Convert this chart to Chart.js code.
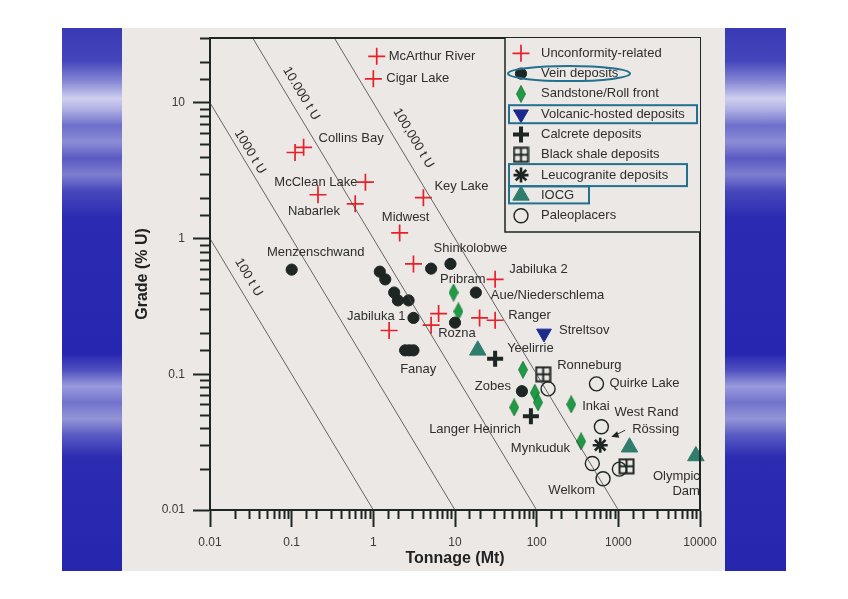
<!DOCTYPE html>
<html>
<head>
<meta charset="utf-8">
<script src="https://cdn.jsdelivr.net/npm/chart.js"></script>
<style>
  html, body { margin: 0; padding: 0; background: #fff; }
  #wrap { position: relative; width: 848px; height: 599px; overflow: hidden; }
  .band {
    position: absolute; top: 28px; height: 543px;
    background: linear-gradient(to bottom,
      #3a3ab6 0%, #4444bb 6%, #8a8ad6 10%, #cfcff0 13%, #b0b0e4 15%, #6e6ecc 18%,
      #8c8cd6 21%, #5a5ac4 24%, #7e7ed0 27%, #4848bc 30%, #2a2ab2 35%, #2626b0 60%,
      #5050c0 63%, #9a9ade 66%, #7272cc 69%, #9494d8 72%, #5a5ac4 75%, #2c2cb2 79%, #2525ae 100%);
  }
  #leftBand { left: 62px; width: 60px; }
  #rightBand { left: 725px; width: 61px; }
  #panel { position: absolute; left: 122px; top: 28px; width: 603px; height: 543px; background: #ece8e5; }
  canvas { position: absolute; left: 0; top: 0; }
</style>
</head>
<body>
<div id="wrap">
  <div class="band" id="leftBand"></div>
  <div class="band" id="rightBand"></div>
  <div id="panel"></div>
  <canvas id="grade" width="848" height="599"></canvas>
</div>
<script>
// deposit data: [tonnage Mt, grade % U]
const unconformity = [[1.1, 22], [1.0, 15], [0.11, 4.3], [0.14, 4.7], [0.8, 2.6], [0.21, 2.1], [0.6, 1.8],
  [4.1, 2.0], [2.1, 1.1], [3.1, 0.65], [31, 0.5], [6.3, 0.28], [5.1, 0.23], [1.56, 0.21], [20, 0.26], [31, 0.25]];
const vein = [[0.1, 0.59], [1.2, 0.57], [1.4, 0.5], [1.8, 0.4], [2.0, 0.35], [2.7, 0.35], [3.1, 0.26],
  [2.45, 0.15], [2.75, 0.15], [3.1, 0.15], [5.1, 0.6], [8.8, 0.65], [18, 0.4], [10, 0.24], [66, 0.075]];
const sandstone = [[9.6, 0.4], [11, 0.29], [68, 0.108], [95, 0.073], [104, 0.062], [53, 0.057], [265, 0.06], [350, 0.032]];
const volcanic = [[123, 0.2]];
const calcrete = [[31, 0.13], [85, 0.049]];
const blackShale = [[120, 0.1], [1260, 0.021]];
const leucogranite = [[600, 0.03]];
const iocg = [[19, 0.15], [1370, 0.029], [8900, 0.025]];
const paleoplacers = [[138, 0.078], [540, 0.085], [620, 0.041], [480, 0.022], [650, 0.017], [1030, 0.02]];

const categories = ['Unconformity-related', 'Vein deposits', 'Sandstone/Roll front', 'Volcanic-hosted deposits',
  'Calcrete deposits', 'Black shale deposits', 'Leucogranite deposits', 'IOCG', 'Paleoplacers'];
const series = [unconformity, vein, sandstone, volcanic, calcrete, blackShale, leucogranite, iocg, paleoplacers];

// lines of equal contained metal
const isoLabels = ['100 t U', '1000 t U', '10.000 t U', '100,000 t U'];
const isoEnds = [[[0.01, 1], [1, 0.01]], [[0.01, 10], [10, 0.01]], [[0.0333, 30], [100, 0.01]], [[0.333, 30], [1000, 0.01]]];

const xTickLabels = ['0.01', '0.1', '1', '10', '100', '1000', '10000'];
const yTickLabels = ['0.01', '0.1', '1', '10'];

// named deposits: [name, tonnage, grade]
const named = [
  ['McArthur River', 1.1, 22], ['Cigar Lake', 1.0, 15], ['Collins Bay', 0.14, 4.7], ['McClean Lake', 0.8, 2.6],
  ['Nabarlek', 0.21, 2.1], ['Key Lake', 4.1, 2.0], ['Midwest', 2.1, 1.1], ['Menzenschwand', 0.1, 0.59],
  ['Shinkolobwe', 8.8, 0.65], ['Pribram', 18, 0.4], ['Jabiluka 2', 31, 0.5], ['Aue/Niederschlema', 18, 0.4],
  ['Ranger', 31, 0.25], ['Jabiluka 1', 3.1, 0.26], ['Rozna', 10, 0.24], ['Fanay', 2.75, 0.15],
  ['Streltsov', 123, 0.2], ['Yeelirrie', 31, 0.13], ['Ronneburg', 120, 0.1], ['Zobes', 66, 0.075],
  ['Quirke Lake', 540, 0.085], ['Inkai', 265, 0.06], ['West Rand', 620, 0.041], ['Langer Heinrich', 85, 0.049],
  ['Rössing', 600, 0.03], ['Mynkuduk', 350, 0.032], ['Welkom', 650, 0.017], ['Olympic', 8900, 0.025], ['Dam', 8900, 0.025]
];

// label placement in px from the point: dx, dy, align
const labelPlace = {
  'McArthur River': [12, 0, 'left'], 'Cigar Lake': [13, 0, 'left'], 'Collins Bay': [15, -9, 'left'],
  'McClean Lake': [-8, 0, 'right'], 'Nabarlek': [-4, 17, 'center'], 'Key Lake': [11, -11, 'left'],
  'Midwest': [6, -15, 'center'], 'Menzenschwand': [24, -17, 'center'], 'Shinkolobwe': [20, -15, 'center'],
  'Pribram': [-13, -13, 'center'], 'Jabiluka 2': [14, -10, 'left'], 'Aue/Niederschlema': [15, 3, 'left'],
  'Ranger': [13, -5, 'left'], 'Jabiluka 1': [-8, -2, 'right'], 'Rozna': [2, 11, 'center'], 'Fanay': [9, 19, 'center'],
  'Streltsov': [15, -3, 'left'], 'Yeelirrie': [12, -10, 'left'], 'Ronneburg': [14, -9, 'left'], 'Zobes': [-11, -5, 'right'],
  'Quirke Lake': [13, 0, 'left'], 'Inkai': [11, 2, 'left'], 'West Rand': [13, -14, 'left'], 'Langer Heinrich': [-10, 13, 'right'],
  'Rössing': [32, -16, 'left'], 'Mynkuduk': [-11, 7, 'right'], 'Welkom': [-8, 12, 'right'],
  'Olympic': [4, 20, 'right'], 'Dam': [4, 35, 'right']
};
// position along each line (fraction) and offset in px
const isoPlace = [[0.168, 13], [0.132, 9], [0.132, 13], [0.23, 16]];

const dark = '#1d2622';

function diamond() {
  const c = document.createElement('canvas');
  c.width = 10; c.height = 18;
  const g = c.getContext('2d');
  g.beginPath();
  g.moveTo(5, 0.5); g.lineTo(9.5, 9); g.lineTo(5, 17.5); g.lineTo(0.5, 9); g.closePath();
  g.fillStyle = '#1f9b45'; g.fill();
  g.strokeStyle = '#137232'; g.lineWidth = 0.8; g.stroke();
  return c;
}
function boxCross() {
  const c = document.createElement('canvas');
  c.width = 17; c.height = 17;
  const g = c.getContext('2d');
  g.strokeStyle = dark; g.lineWidth = 2;
  g.strokeRect(1.5, 1.5, 14, 14);
  g.beginPath();
  g.moveTo(8.5, 1.5); g.lineTo(8.5, 15.5);
  g.moveTo(1.5, 8.5); g.lineTo(15.5, 8.5);
  g.stroke();
  return c;
}

const markers = [
  { pointStyle: 'cross', radius: 8.5, borderWidth: 1.7, borderColor: '#e8202a', backgroundColor: '#e8202a', rotation: 0 },
  { pointStyle: 'circle', radius: 5.6, borderWidth: 1, borderColor: dark, backgroundColor: dark, rotation: 0 },
  { pointStyle: diamond(), radius: 9, borderWidth: 0, borderColor: '#1f9b45', backgroundColor: '#1f9b45', rotation: 0 },
  { pointStyle: 'triangle', radius: 8.5, borderWidth: 1, borderColor: '#1c2a8e', backgroundColor: '#1c2a8e', rotation: 180 },
  { pointStyle: 'cross', radius: 8, borderWidth: 4, borderColor: dark, backgroundColor: dark, rotation: 0 },
  { pointStyle: boxCross(), radius: 8.5, borderWidth: 0, borderColor: dark, backgroundColor: dark, rotation: 0 },
  { pointStyle: 'star', radius: 7.5, borderWidth: 2.6, borderColor: dark, backgroundColor: dark, rotation: 0 },
  { pointStyle: 'triangle', radius: 9.5, borderWidth: 1, borderColor: '#2f7d6d', backgroundColor: '#2f7d6d', rotation: 0 },
  { pointStyle: 'circle', radius: 7, borderWidth: 1.4, borderColor: dark, backgroundColor: 'rgba(0,0,0,0)', rotation: 0 }
];

const isMajor = v => Math.abs(Math.log10(v) - Math.round(Math.log10(v))) < 1e-6;
const tickText = (labels) => (v) => {
  if (!isMajor(v)) return '';
  const s = labels.find(l => Math.abs(parseFloat(l) - v) / v < 1e-6);
  return s || '';
};
const majorColor = c => (c.tick && isMajor(c.tick.value)) ? dark : 'rgba(0,0,0,0)';

Chart.defaults.font.family = "'Liberation Sans', Arial, Helvetica, sans-serif";
Chart.defaults.color = '#333';

const datasets = [];
isoEnds.forEach((ends, i) => {
  datasets.push({
    label: isoLabels[i],
    data: ends.map(p => ({ x: p[0], y: p[1] })),
    showLine: true, borderColor: '#444', borderWidth: 0.8, pointRadius: 0, fill: false
  });
});
series.forEach((pts, i) => {
  const m = markers[i];
  datasets.push({
    label: categories[i],
    data: pts.map(p => ({ x: p[0], y: p[1] })),
    showLine: false,
    pointStyle: m.pointStyle, pointRadius: m.radius, pointBorderWidth: m.borderWidth,
    pointBorderColor: m.borderColor, pointBackgroundColor: m.backgroundColor, pointRotation: m.rotation,
    clip: false
  });
});

const annotate = {
  id: 'annotate',
  afterDatasetsDraw(chart) {
    const { ctx, chartArea: a, scales: { x, y } } = chart;
    ctx.save();

    // frame top and right
    ctx.strokeStyle = dark; ctx.lineWidth = 2; ctx.lineJoin = 'miter';
    ctx.beginPath(); ctx.moveTo(a.left, a.top); ctx.lineTo(a.right, a.top); ctx.lineTo(a.right, a.bottom); ctx.stroke();

    // minor ticks
    ctx.beginPath();
    x.ticks.forEach(t => {
      if (isMajor(t.value)) return;
      const px = Math.round(x.getPixelForValue(t.value)) + 0.5;
      ctx.moveTo(px, a.bottom); ctx.lineTo(px, a.bottom + 9);
    });
    y.ticks.forEach(t => {
      if (isMajor(t.value)) return;
      const py = Math.round(y.getPixelForValue(t.value)) + 0.5;
      ctx.moveTo(a.left - 10, py); ctx.lineTo(a.left, py);
    });
    ctx.stroke();

    // labels on lines of equal metal
    ctx.fillStyle = '#2e2e2e';
    ctx.font = "13px 'Liberation Sans', Arial, sans-serif";
    ctx.textAlign = 'center'; ctx.textBaseline = 'middle';
    isoEnds.forEach((ends, i) => {
      const x0 = x.getPixelForValue(ends[0][0]), y0 = y.getPixelForValue(ends[0][1]);
      const x1 = x.getPixelForValue(ends[1][0]), y1 = y.getPixelForValue(ends[1][1]);
      const ang = Math.atan2(y1 - y0, x1 - x0);
      const [t, off] = isoPlace[i];
      const cx = x0 + (x1 - x0) * t + Math.sin(ang) * off;
      const cy = y0 + (y1 - y0) * t - Math.cos(ang) * off;
      ctx.save(); ctx.translate(cx, cy); ctx.rotate(ang); ctx.fillText(isoLabels[i], 0, 0); ctx.restore();
    });

    // deposit names
    named.forEach(([name, tx, gy]) => {
      const [dx, dy, al] = labelPlace[name];
      ctx.textAlign = al;
      ctx.fillText(name, x.getPixelForValue(tx) + dx, y.getPixelForValue(gy) + dy);
    });

    // arrow for Rössing
    const rx = x.getPixelForValue(600), ry = y.getPixelForValue(0.03);
    ctx.strokeStyle = dark; ctx.fillStyle = dark; ctx.lineWidth = 0.9;
    ctx.beginPath(); ctx.moveTo(rx + 25, ry - 15); ctx.lineTo(rx + 15, ry - 10); ctx.stroke();
    ctx.beginPath(); ctx.moveTo(rx + 11, ry - 8.5); ctx.lineTo(rx + 17, ry - 14); ctx.lineTo(rx + 19, ry - 7.5); ctx.closePath(); ctx.fill();

    // legend box
    const bl = a.right - 195, bt = a.top, bb = a.top + 194;
    ctx.fillStyle = '#ece8e5';
    ctx.fillRect(bl, bt, a.right - bl, bb - bt);
    ctx.strokeStyle = dark; ctx.lineWidth = 1.5;
    ctx.beginPath(); ctx.moveTo(bl, bt); ctx.lineTo(bl, bb); ctx.lineTo(a.right, bb); ctx.stroke();
    ctx.textAlign = 'left'; ctx.textBaseline = 'middle';
    ctx.font = "13px 'Liberation Sans', Arial, sans-serif";
    categories.forEach((name, i) => {
      const ry2 = bt + 15.3 + i * 20.3;
      const m = markers[i];
      ctx.save();
      ctx.fillStyle = m.backgroundColor; ctx.strokeStyle = m.borderColor; ctx.lineWidth = m.borderWidth;
      if (Chart.helpers && Chart.helpers.drawPoint) {
        Chart.helpers.drawPoint(ctx, { pointStyle: m.pointStyle, rotation: m.rotation, radius: m.radius, borderWidth: m.borderWidth }, bl + 16, ry2);
      }
      ctx.restore();
      ctx.fillStyle = '#2e2e2e';
      ctx.fillText(name, bl + 36, ry2);
    });

    // highlight outlines in legend
    const row = i => bt + 15.3 + i * 20.3;
    ctx.strokeStyle = '#23708f'; ctx.lineWidth = 2;
    ctx.beginPath(); ctx.ellipse(bl + 64, row(1), 61, 7.5, 0, 0, Math.PI * 2); ctx.stroke();
    ctx.strokeRect(bl + 4, row(3) - 9, 188, 18);
    ctx.strokeRect(bl + 4, row(6) - 11, 178, 22);
    ctx.strokeRect(bl + 4, row(7) - 9, 80, 17);

    ctx.restore();
  }
};

new Chart(document.getElementById('grade'), {
  type: 'scatter',
  data: { datasets },
  options: {
    responsive: false,
    animation: false,
    events: [],
    layout: { padding: { left: 0, top: 38, right: 148, bottom: 0 } },
    plugins: { legend: { display: false }, tooltip: { enabled: false } },
    scales: {
      x: {
        type: 'logarithmic', min: 0.01, max: 10000, position: 'bottom',
        afterFit: s => { s.height = 89; },
        border: { display: true, color: dark, width: 2 },
        grid: { drawOnChartArea: false, drawTicks: true, tickLength: 17, tickWidth: 2, tickColor: majorColor },
        ticks: { autoSkip: false, maxRotation: 0, padding: 8, color: '#3a3a3a', font: { size: 12 }, callback: tickText(xTickLabels) },
        title: { display: true, text: 'Tonnage (Mt)', color: '#222', font: { size: 16, weight: 'bold' }, padding: { top: 0, bottom: 30.4 } }
      },
      y: {
        type: 'logarithmic', min: 0.01, max: 30, position: 'left',
        afterFit: s => { s.width = 210; },
        border: { display: true, color: dark, width: 2 },
        grid: { drawOnChartArea: false, drawTicks: true, tickLength: 17, tickWidth: 2, tickColor: majorColor },
        ticks: { autoSkip: false, padding: 8, color: '#3a3a3a', font: { size: 12 }, callback: tickText(yTickLabels) },
        title: { display: true, text: 'Grade (% U)', color: '#222', font: { size: 16, weight: 'bold' }, padding: { top: 133.4, bottom: 0 } }
      }
    }
  },
  plugins: [annotate]
});
</script>
</body>
</html>
